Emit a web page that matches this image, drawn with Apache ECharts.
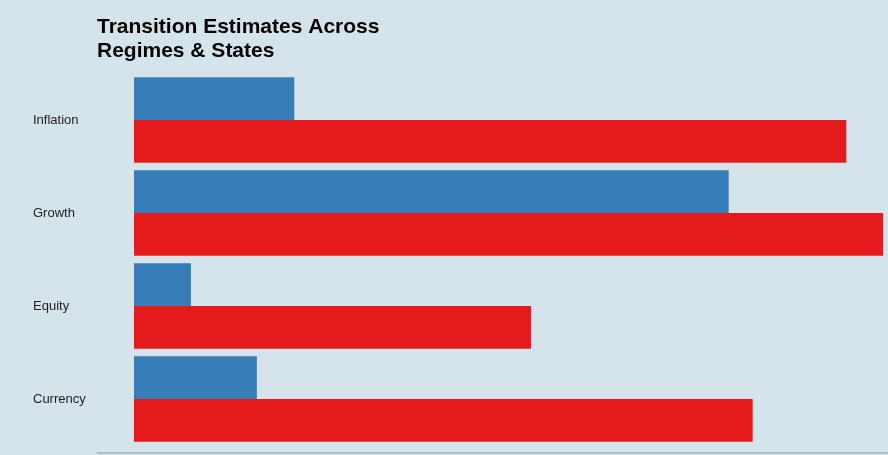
<!DOCTYPE html>
<html>
<head>
<meta charset="utf-8">
<script src="https://cdn.jsdelivr.net/npm/echarts@6/dist/echarts.min.js"></script>
<style>
html,body{margin:0;padding:0;background:#d5e3ea;}
#chart{width:888px;height:455px;}
</style>
</head>
<body>
<div id="chart"></div>
<script>
const categories = ['Inflation', 'Growth', 'Equity', 'Currency'];
const seriesBlue = [21.4, 79.4, 7.6, 16.4];
const seriesRed = [95.1, 100.0, 53.0, 82.6];
const titleText = 'Transition Estimates Across\nRegimes & States';

const chart = echarts.init(document.getElementById('chart'), null, {renderer: 'canvas'});
chart.setOption({
  backgroundColor: '#d5e3ea',
  animation: false,
  title: {
    text: titleText,
    left: 92,
    top: 10,
    textStyle: {
      fontFamily: 'Liberation Sans, Arial, sans-serif',
      fontWeight: 'bold',
      fontSize: 21,
      lineHeight: 24,
      color: '#000'
    }
  },
  grid: {left: 97, right: 0, top: 73.5, bottom: 9.5, containLabel: false},
  xAxis: {
    type: 'value',
    min: -4.94,
    max: 100.67,
    offset: 7,
    axisLine: {show: true, lineStyle: {color: '#a9b4ba', width: 1.5}},
    axisTick: {show: false},
    axisLabel: {show: false},
    splitLine: {show: false}
  },
  yAxis: {
    type: 'category',
    data: categories,
    inverse: true,
    axisLine: {show: false},
    axisTick: {show: false},
    axisLabel: {
      align: 'left',
      margin: 64,
      fontFamily: 'Liberation Sans, Arial, sans-serif',
      fontSize: 13,
      color: '#222'
    }
  },
  series: [
    {
      name: 'Blue', type: 'bar', data: seriesBlue,
      itemStyle: {color: '#377eb8'},
      barGap: '0%', barCategoryGap: '8%'
    },
    {
      name: 'Red', type: 'bar', data: seriesRed,
      itemStyle: {color: '#e41a1c'},
      barGap: '0%', barCategoryGap: '8%'
    }
  ]
});
</script>
</body>
</html>
